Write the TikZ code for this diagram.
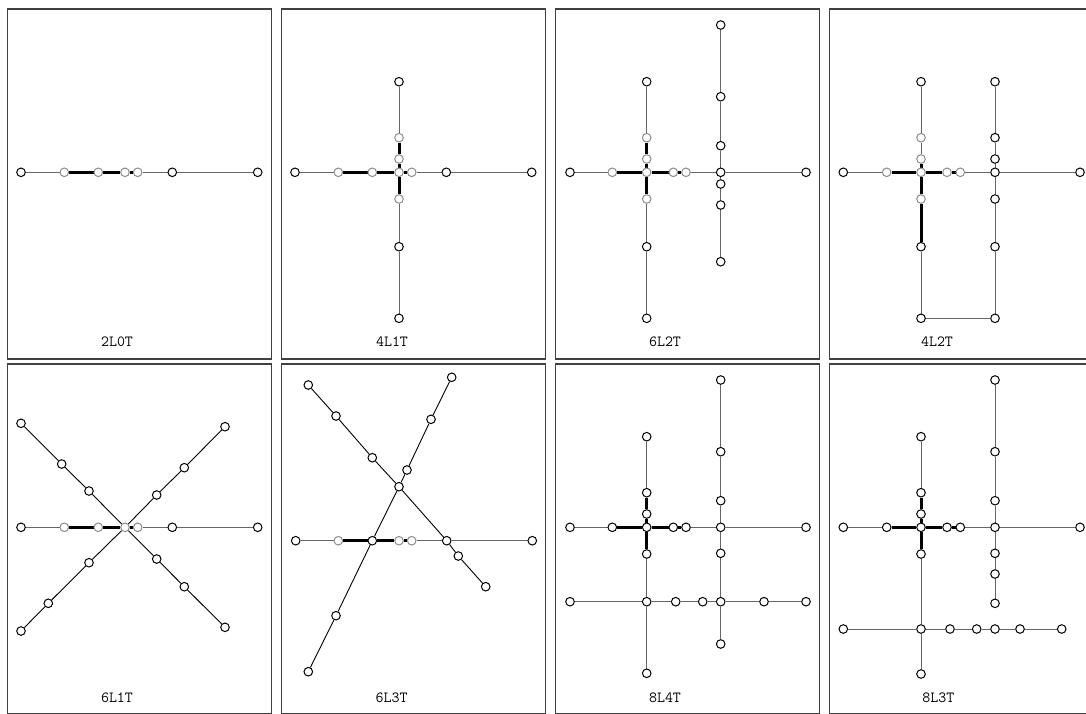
\documentclass[tikz,border=0pt]{standalone}
\usetikzlibrary{backgrounds}
\begin{document}
\begin{tikzpicture}[x=1pt,y=-1pt,
 bn/.style={circle,draw=black,fill=white,line width=1pt,inner sep=0pt,minimum size=8.6pt},
 gn/.style={bn,draw=black!45},
 ln/.style={draw=black!60,line width=1pt},
 tk/.style={draw=black,line width=3pt},
 dl/.style={draw=black,line width=0.9pt},
 frame/.style={draw=black!75,line width=1.2pt},
 lbl/.style={font=\ttfamily\fontsize{15.5}{18}\selectfont,inner sep=0pt}]
\clip (0,0) rectangle (1086,713);
\foreach \sx/\sy in {0/0,274/0,548/0,822/0,0/355,274/355,548/355,822/355}
  \draw[frame] (7.5+\sx,9+\sy) rectangle (271.5+\sx,359+\sy);

% ---------- Panel 1: 2L0T ----------
\begin{scope}
\node[bn] (a1) at (21,172.3) {};
\node[gn] (a2) at (64.3,172.3) {};
\node[gn] (a3) at (98.3,172.3) {};
\node[gn] (a4) at (125,172.3) {};
\node[gn] (a5) at (137.7,172.3) {};
\node[bn] (a6) at (172.3,172.3) {};
\node[bn] (a7) at (257.7,172.3) {};
\node[lbl] (la) at (117,342) {2L0T};
\begin{scope}[on background layer]
\draw[ln] (a1)--(a2); \draw[tk] (a2)--(a3); \draw[tk] (a3)--(a4); \draw[tk] (a4)--(a5);
\draw[ln] (a5)--(a6); \draw[ln] (a6)--(a7);
\end{scope}
\end{scope}

% ---------- Panel 2: 4L1T ----------
\begin{scope}[shift={(274,0)}]
\node[bn] (b1) at (21,172.3) {};
\node[gn] (b2) at (64.3,172.3) {};
\node[gn] (b3) at (98.3,172.3) {};
\node[gn] (b4) at (125,172.3) {};
\node[gn] (b5) at (137.7,172.3) {};
\node[bn] (b6) at (172.3,172.3) {};
\node[bn] (b7) at (257.7,172.3) {};
\node[bn] (bv1) at (125,81.7) {};
\node[gn] (bv2) at (125,137.7) {};
\node[gn] (bv3) at (125,159) {};
\node[gn] (bv5) at (125,199) {};
\node[bn] (bv6) at (125,246.7) {};
\node[bn] (bv7) at (125,318.3) {};
\node[lbl] (lb) at (118,342) {4L1T};
\begin{scope}[on background layer]
\draw[ln] (b1)--(b2); \draw[tk] (b2)--(b3); \draw[tk] (b3)--(b4); \draw[tk] (b4)--(b5);
\draw[ln] (b5)--(b6); \draw[ln] (b6)--(b7);
\draw[ln] (bv1)--(bv2); \draw[tk] (bv2)--(bv3); \draw[tk] (bv3)--(b4); \draw[tk] (b4)--(bv5);
\draw[ln] (bv5)--(bv6); \draw[ln] (bv6)--(bv7);
\end{scope}
\end{scope}

% ---------- Panel 3: 6L2T ----------
\begin{scope}[shift={(548,0)}]
\node[bn] (c1) at (22,172.3) {};
\node[gn] (c2) at (64.3,172.3) {};
\node[gn] (c3) at (98.7,172.3) {};
\node[gn] (c4) at (125.3,172.3) {};
\node[gn] (c5) at (138,172.3) {};
\node[bn] (c6) at (172.7,172.3) {};
\node[bn] (c7) at (258,172.3) {};
\node[bn] (cv1) at (98.7,81.7) {};
\node[gn] (cv2) at (98.7,137.7) {};
\node[gn] (cv3) at (98.7,159) {};
\node[gn] (cv5) at (98.7,199) {};
\node[bn] (cv6) at (98.7,246.7) {};
\node[bn] (cv7) at (98.7,318.3) {};
\node[bn] (cw1) at (172.7,25) {};
\node[bn] (cw2) at (172.7,96.7) {};
\node[bn] (cw3) at (172.7,145.7) {};
\node[bn] (cw5) at (172.7,184) {};
\node[bn] (cw6) at (172.7,205) {};
\node[bn] (cw7) at (172.7,261.7) {};
\node[lbl] (lc) at (117,342) {6L2T};
\begin{scope}[on background layer]
\draw[ln] (c1)--(c2); \draw[tk] (c2)--(c3); \draw[tk] (c3)--(c4); \draw[tk] (c4)--(c5);
\draw[ln] (c5)--(c6); \draw[ln] (c6)--(c7);
\draw[ln] (cv1)--(cv2); \draw[tk] (cv2)--(cv3); \draw[tk] (cv3)--(c3); \draw[tk] (c3)--(cv5);
\draw[ln] (cv5)--(cv6); \draw[ln] (cv6)--(cv7);
\draw[ln] (cw1)--(cw2); \draw[ln] (cw2)--(cw3); \draw[ln] (cw3)--(c6);
\draw[ln] (c6)--(cw5); \draw[ln] (cw5)--(cw6); \draw[ln] (cw6)--(cw7);
\end{scope}
\end{scope}

% ---------- Panel 4: 4L2T ----------
\begin{scope}[shift={(822,0)}]
\node[bn] (d1) at (21.3,172.3) {};
\node[gn] (d2) at (64.7,172.3) {};
\node[gn] (d3) at (99,172.3) {};
\node[gn] (d4) at (125,172.3) {};
\node[gn] (d5) at (138.3,172.3) {};
\node[bn] (d6) at (173,172.3) {};
\node[bn] (d7) at (258,172.3) {};
\node[bn] (dv1) at (99,81.7) {};
\node[gn] (dv2) at (99,137.7) {};
\node[gn] (dv3) at (99,159) {};
\node[gn] (dv5) at (99,199) {};
\node[bn] (dv6) at (99,246.7) {};
\node[bn] (dv7) at (99,318.3) {};
\node[bn] (dw1) at (173,81.7) {};
\node[bn] (dw2) at (173,137.7) {};
\node[bn] (dw3) at (173,159) {};
\node[bn] (dw5) at (173,199) {};
\node[bn] (dw6) at (173,246.7) {};
\node[bn] (dw7) at (173,318.3) {};
\node[lbl] (ld) at (115,342) {4L2T};
\begin{scope}[on background layer]
\draw[ln] (d1)--(d2); \draw[tk] (d2)--(d3); \draw[tk] (d3)--(d4); \draw[tk] (d4)--(d5);
\draw[ln] (d5)--(d6); \draw[ln] (d6)--(d7);
\draw[ln] (dv1)--(dv2); \draw[ln] (dv2)--(dv3); \draw[tk] (dv3)--(d3); \draw[tk] (d3)--(dv5);
\draw[tk] (dv5)--(dv6); \draw[ln] (dv6)--(dv7);
\draw[ln] (dw1)--(dw2); \draw[ln] (dw2)--(dw3); \draw[ln] (dw3)--(d6);
\draw[ln] (d6)--(dw5); \draw[ln] (dw5)--(dw6); \draw[ln] (dw6)--(dw7);
\draw[ln] (dv7)--(dw7);
\end{scope}
\end{scope}

% ---------- Panel 5: 6L1T ----------
\begin{scope}[shift={(0,355)}]
\node[bn] (e1) at (21,172.3) {};
\node[gn] (e2) at (64.3,172.3) {};
\node[gn] (e3) at (98.3,172.3) {};
\node[gn] (e4) at (125,172.3) {};
\node[gn] (e5) at (137.7,172.3) {};
\node[bn] (e6) at (172.3,172.3) {};
\node[bn] (e7) at (257.7,172.3) {};
\node[bn] (ea1) at (21,68.3) {};
\node[bn] (ea2) at (61.7,109) {};
\node[bn] (ea3) at (89,136) {};
\node[bn] (ea5) at (156.7,204) {};
\node[bn] (ea6) at (184.3,231.7) {};
\node[bn] (ea7) at (225,272.3) {};
\node[bn] (eb1) at (225,71.7) {};
\node[bn] (eb2) at (184.3,112.7) {};
\node[bn] (eb3) at (156.7,140) {};
\node[bn] (eb5) at (89,207.7) {};
\node[bn] (eb6) at (48.3,248.3) {};
\node[bn] (eb7) at (21,276) {};
\node[lbl] (le) at (117,342.3) {6L1T};
\begin{scope}[on background layer]
\draw[ln] (e1)--(e2); \draw[tk] (e2)--(e3); \draw[tk] (e3)--(e4); \draw[tk] (e4)--(e5);
\draw[ln] (e5)--(e6); \draw[ln] (e6)--(e7);
\draw[dl] (ea1)--(ea2); \draw[dl] (ea2)--(ea3); \draw[dl] (ea3)--(e4);
\draw[dl] (e4)--(ea5); \draw[dl] (ea5)--(ea6); \draw[dl] (ea6)--(ea7);
\draw[dl] (eb1)--(eb2); \draw[dl] (eb2)--(eb3); \draw[dl] (eb3)--(e4);
\draw[dl] (e4)--(eb5); \draw[dl] (eb5)--(eb6); \draw[dl] (eb6)--(eb7);
\end{scope}
\end{scope}

% ---------- Panel 6: 6L3T ----------
\begin{scope}[shift={(274,355)}]
\node[bn] (f1) at (21.7,185.7) {};
\node[gn] (f2) at (64.3,185.7) {};
\node[bn] (f3) at (98.3,185.7) {};
\node[gn] (f4) at (125,185.7) {};
\node[gn] (f5) at (137.7,185.7) {};
\node[bn] (f6) at (172.7,185.7) {};
\node[bn] (f7) at (258.3,185.7) {};
\node[bn] (fx) at (125,131.7) {};
\node[bn] (fc1) at (34.3,30) {};
\node[bn] (fc2) at (62,61) {};
\node[bn] (fc3) at (98.3,102.7) {};
\node[bn] (fc5) at (184.3,201) {};
\node[bn] (fc6) at (211.7,231.7) {};
\node[bn] (fd1) at (177.7,22.3) {};
\node[bn] (fd2) at (157,64.3) {};
\node[bn] (fd3) at (133,115) {};
\node[bn] (fd5) at (62,260.7) {};
\node[bn] (fd6) at (34.3,316.7) {};
\node[lbl] (lf) at (117.7,342.3) {6L3T};
\begin{scope}[on background layer]
\draw[ln] (f1)--(f2); \draw[tk] (f2)--(f3); \draw[tk] (f3)--(f4); \draw[tk] (f4)--(f5);
\draw[ln] (f5)--(f6); \draw[ln] (f6)--(f7);
\draw[dl] (fc1)--(fc2); \draw[dl] (fc2)--(fc3); \draw[dl] (fc3)--(fx);
\draw[dl] (fx)--(f6); \draw[dl] (f6)--(fc5); \draw[dl] (fc5)--(fc6);
\draw[dl] (fd1)--(fd2); \draw[dl] (fd2)--(fd3); \draw[dl] (fd3)--(fx);
\draw[dl] (fx)--(f3); \draw[dl] (f3)--(fd5); \draw[dl] (fd5)--(fd6);
\end{scope}
\end{scope}

% ---------- Panel 7: 8L4T ----------
\begin{scope}[shift={(548,355)}]
\node[bn] (g1) at (22,172.3) {};
\node[bn] (g2) at (64.3,172.3) {};
\node[bn] (g3) at (98.7,172.3) {};
\node[bn] (g4) at (125.3,172.3) {};
\node[bn] (g5) at (138,172.3) {};
\node[bn] (g6) at (172.7,172.3) {};
\node[bn] (g7) at (258,172.3) {};
\node[bn] (gv1) at (98.7,81.7) {};
\node[bn] (gv2) at (98.7,137.7) {};
\node[bn] (gv3) at (98.7,159) {};
\node[bn] (gv5) at (98.7,199) {};
\node[bn] (gv7) at (98.7,318.3) {};
\node[bn] (gw1) at (172.7,25) {};
\node[bn] (gw2) at (172.7,96.7) {};
\node[bn] (gw3) at (172.7,145.7) {};
\node[bn] (gw5) at (172.7,198.3) {};
\node[bn] (gw7) at (172.7,289) {};
\node[bn] (gh1) at (22,246.7) {};
\node[bn] (gh2) at (98.7,246.7) {};
\node[bn] (gh3) at (127.7,246.7) {};
\node[bn] (gh4) at (154.7,246.7) {};
\node[bn] (gh5) at (172.7,246.7) {};
\node[bn] (gh6) at (216,246.7) {};
\node[bn] (gh7) at (258,246.7) {};
\node[lbl] (lg) at (117,342.3) {8L4T};
\begin{scope}[on background layer]
\draw[ln] (g1)--(g2); \draw[tk] (g2)--(g3); \draw[tk] (g3)--(g4); \draw[tk] (g4)--(g5);
\draw[ln] (g5)--(g6); \draw[ln] (g6)--(g7);
\draw[ln] (gv1)--(gv2); \draw[tk] (gv2)--(gv3); \draw[tk] (gv3)--(g3); \draw[tk] (g3)--(gv5);
\draw[ln] (gv5)--(gh2); \draw[ln] (gh2)--(gv7);
\draw[ln] (gw1)--(gw2); \draw[ln] (gw2)--(gw3); \draw[ln] (gw3)--(g6);
\draw[ln] (g6)--(gw5); \draw[ln] (gw5)--(gh5); \draw[ln] (gh5)--(gw7);
\draw[ln] (gh1)--(gh2); \draw[ln] (gh2)--(gh3); \draw[ln] (gh3)--(gh4);
\draw[ln] (gh4)--(gh5); \draw[ln] (gh5)--(gh6); \draw[ln] (gh6)--(gh7);
\end{scope}
\end{scope}

% ---------- Panel 8: 8L3T ----------
\begin{scope}[shift={(822,355)}]
\node[bn] (k1) at (21.3,172.3) {};
\node[bn] (k2) at (64.7,172.3) {};
\node[bn] (k3) at (99,172.3) {};
\node[bn] (k4) at (125,172.3) {};
\node[bn] (k5) at (138.3,172.3) {};
\node[bn] (k6) at (173,172.3) {};
\node[bn] (k7) at (258,172.3) {};
\node[bn] (kv1) at (99,81.7) {};
\node[bn] (kv2) at (99,137.7) {};
\node[bn] (kv3) at (99,159) {};
\node[bn] (kv5) at (99,199) {};
\node[bn] (kv7) at (99,319) {};
\node[bn] (kw1) at (173,25) {};
\node[bn] (kw2) at (173,96.7) {};
\node[bn] (kw3) at (173,145.7) {};
\node[bn] (kw5) at (173,198.3) {};
\node[bn] (kw6) at (173,219) {};
\node[bn] (kw7) at (173,248.3) {};
\node[bn] (kh1) at (21.3,274) {};
\node[bn] (kh2) at (99,274) {};
\node[bn] (kh3) at (128,274) {};
\node[bn] (kh4) at (154.7,274) {};
\node[bn] (kh5) at (173,274) {};
\node[bn] (kh6) at (198,274) {};
\node[bn] (kh7) at (239.7,274) {};
\node[lbl] (lk) at (116.3,342.3) {8L3T};
\begin{scope}[on background layer]
\draw[ln] (k1)--(k2); \draw[tk] (k2)--(k3); \draw[tk] (k3)--(k4); \draw[tk] (k4)--(k5);
\draw[ln] (k5)--(k6); \draw[ln] (k6)--(k7);
\draw[ln] (kv1)--(kv2); \draw[tk] (kv2)--(kv3); \draw[tk] (kv3)--(k3); \draw[tk] (k3)--(kv5);
\draw[ln] (kv5)--(kh2); \draw[ln] (kh2)--(kv7);
\draw[ln] (kw1)--(kw2); \draw[ln] (kw2)--(kw3); \draw[ln] (kw3)--(k6);
\draw[ln] (k6)--(kw5); \draw[ln] (kw5)--(kw6); \draw[ln] (kw6)--(kw7);
\draw[ln] (kh1)--(kh2); \draw[ln] (kh2)--(kh3); \draw[ln] (kh3)--(kh4);
\draw[ln] (kh4)--(kh5); \draw[ln] (kh5)--(kh6); \draw[ln] (kh6)--(kh7);
\end{scope}
\end{scope}
\end{tikzpicture}
\end{document}
